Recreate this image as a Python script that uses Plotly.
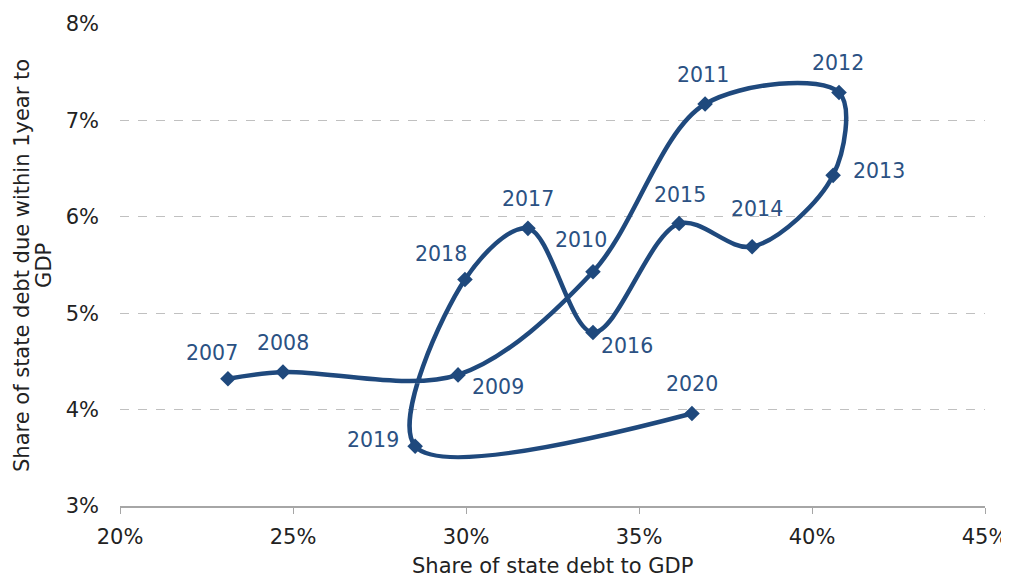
import plotly.graph_objects as go

# Dados
years = ["2007", "2008", "2009", "2010", "2011", "2012", "2013",
         "2014", "2015", "2016", "2017", "2018", "2019", "2020"]
debt_to_gdp = [23.12, 24.71, 29.77, 33.67, 36.91, 40.78, 40.61,
               38.27, 36.16, 33.67, 31.79, 29.97, 28.53, 36.53]
short_debt_to_gdp = [4.32, 4.39, 4.36, 5.43, 7.17, 7.29, 6.43,
                     5.69, 5.93, 4.80, 5.88, 5.35, 3.62, 3.96]

x_title = "Share of state debt to GDP"
y_title_lines = ["Share of state debt due within 1year to", "GDP"]

# deslocamento dos rótulos (px) em relação ao ponto
label_shift = {
    "2007": (-16, 26), "2008": (0, 29), "2009": (40, -12), "2010": (-12, 32),
    "2011": (-2, 29), "2012": (-1, 29), "2013": (46, 4), "2014": (5, 38),
    "2015": (1, 29), "2016": (34, -14), "2017": (0, 29), "2018": (-24, 25),
    "2019": (-42, 6), "2020": (0, 29),
}

BLUE = "#1f497d"
FONT = "DejaVu Sans"
TEXT = "#222222"

fig = go.Figure()

fig.add_trace(go.Scatter(
    x=debt_to_gdp,
    y=short_debt_to_gdp,
    mode="lines+markers",
    line=dict(color=BLUE, width=4.5, shape="spline", smoothing=0.95),
    marker=dict(symbol="diamond", size=12, color=BLUE),
    showlegend=False,
))

for yr, xv, yv in zip(years, debt_to_gdp, short_debt_to_gdp):
    dx, dy = label_shift[yr]
    fig.add_annotation(
        x=xv, y=yv, text=yr, showarrow=False,
        xshift=dx, yshift=dy,
        font=dict(family=FONT, size=20.5, color="#2b5183"),
    )

# título do eixo y em duas linhas mais próximas (como no original)
for xp, line in zip([-0.1133, -0.0880], y_title_lines):
    fig.add_annotation(
        x=xp, y=0.5, xref="paper", yref="paper",
        text=line, textangle=-90, showarrow=False,
        xanchor="center", yanchor="middle",
        font=dict(family=FONT, size=21, color=TEXT),
    )

# título do eixo x
fig.add_annotation(
    x=0.5, y=-0.124, xref="paper", yref="paper",
    text=x_title, showarrow=False,
    xanchor="center", yanchor="middle",
    font=dict(family=FONT, size=21, color=TEXT),
)

# a página tem margem de 8px no body, por isso o tamanho é compensado
fig.update_layout(
    width=1001,
    height=569,
    paper_bgcolor="white",
    plot_bgcolor="white",
    margin=dict(l=112, r=24, t=16, b=71),
    font=dict(family=FONT, size=21, color=TEXT),
)

fig.update_xaxes(
    range=[20, 45],
    dtick=5,
    ticksuffix="%",
    showgrid=False,
    zeroline=False,
    showline=True,
    linecolor="#a6a6a6",
    linewidth=1.5,
    ticks="outside",
    ticklen=6,
    tickcolor="#a6a6a6",
    ticklabelstandoff=5,
    automargin=False,
)

fig.update_yaxes(
    range=[3, 8],
    dtick=1,
    ticksuffix="%",
    showgrid=True,
    gridcolor="#c0c0c0",
    griddash="dash",
    gridwidth=1,
    zeroline=False,
    showline=False,
    ticks="",
    ticklabelstandoff=20,
    automargin=False,
)

fig.write_html("out.html")
